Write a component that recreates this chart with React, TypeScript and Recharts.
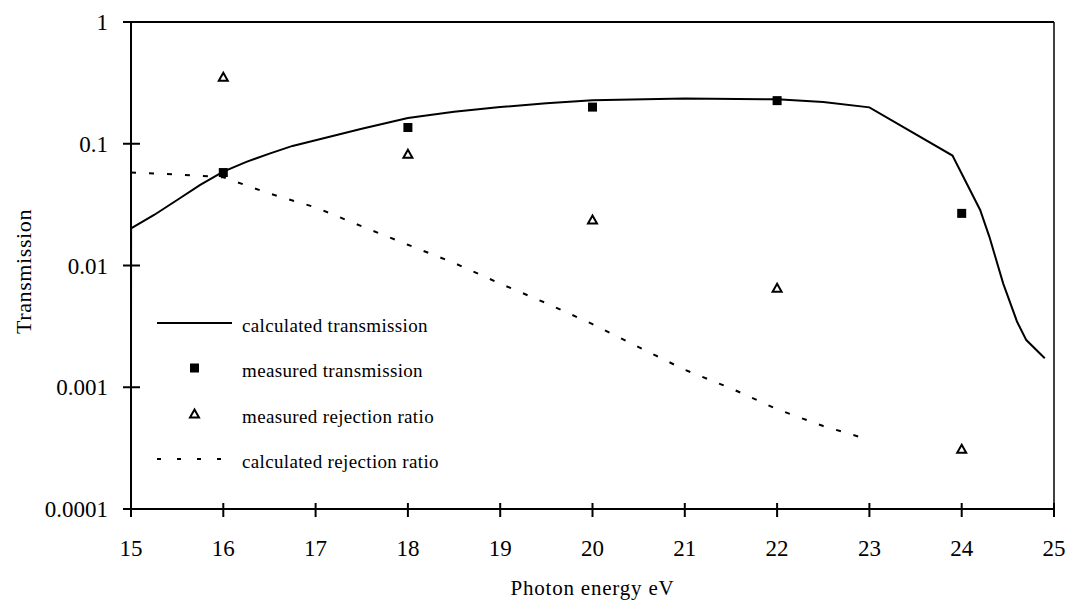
import React from "react";
import {
  ComposedChart,
  Line,
  Scatter,
  XAxis,
  YAxis,
  Legend,
  ReferenceLine,
  Label,
} from "recharts";

const FONT = '"Liberation Serif", "Times New Roman", serif';

// calculated transmission curve
const calcEnergy = [15, 15.001, 15.25, 15.5, 15.75, 16, 16.25, 16.5, 16.75, 17, 17.5, 18, 18.5, 19, 19.5, 20, 21, 22, 22.5, 23, 23.9, 24.2, 24.3, 24.45, 24.6, 24.7, 24.9];
const calcTransmission = [0.00167, 0.0202, 0.026, 0.0345, 0.046, 0.059, 0.071, 0.083, 0.096, 0.107, 0.133, 0.163, 0.183, 0.2, 0.215, 0.228, 0.235, 0.232, 0.22, 0.199, 0.08, 0.0286, 0.0172, 0.0071, 0.00345, 0.00244, 0.00173];

// measured points
const measEnergy = [16, 18, 20, 22, 24];
const measTransmission = [0.058, 0.136, 0.2, 0.226, 0.0268];
const measRejection = [0.351, 0.082, 0.0236, 0.0065, 0.00031];

// calculated rejection ratio
const rejEnergy = [15, 15.5, 16, 16.5, 17, 17.5, 18, 18.5, 19, 19.5, 20, 20.5, 21, 21.5, 22, 22.5, 23];
const rejRatio = [0.058, 0.056, 0.053, 0.039, 0.03, 0.021, 0.0148, 0.0105, 0.0071, 0.0049, 0.0033, 0.00214, 0.00139, 0.00098, 0.00066, 0.00048, 0.00037];

const xTicks = [15, 16, 17, 18, 19, 20, 21, 22, 23, 24, 25];
const yTicks = [0.0001, 0.001, 0.01, 0.1, 1];

const legendLabels = [
  "calculated transmission",
  "measured transmission",
  "measured rejection ratio",
  "calculated rejection ratio",
];

const zip = (xs: number[], ys: number[]) => xs.map((x, i) => ({ x, y: ys[i] }));

const calcTransData = zip(calcEnergy, calcTransmission);
const measTransData = zip(measEnergy, measTransmission);
const measRejData = zip(measEnergy, measRejection);
const rejData = zip(rejEnergy, rejRatio);

const XTick = (props: any) => {
  const { x, y, payload } = props;
  return (
    <g>
      <line x1={x} x2={x} y1={y - 6} y2={y + 8} stroke="#000" strokeWidth={2} />
      <text x={x} y={y + 39} dy="0.35em" textAnchor="middle" fontSize={23} fontFamily={FONT} fill="#000">
        {payload.value}
      </text>
    </g>
  );
};

const YTick = (props: any) => {
  const { x, y, payload } = props;
  return (
    <g>
      <line x1={x - 8} x2={x + 9} y1={y} y2={y} stroke="#000" strokeWidth={2} />
      <text x={x - 23} y={y} dy="0.35em" textAnchor="end" fontSize={23} fontFamily={FONT} fill="#000">
        {String(payload.value)}
      </text>
    </g>
  );
};

const SquareDot = (p: any) => (
  <rect x={p.cx - 4.5} y={p.cy - 4.5} width={9} height={9} fill="#000" />
);

const TriangleDot = (p: any) => (
  <path
    d={`M${p.cx},${p.cy - 4.5} L${p.cx + 4.5},${p.cy + 3.5} L${p.cx - 4.5},${p.cy + 3.5} Z`}
    fill="#fff"
    stroke="#000"
    strokeWidth={2}
  />
);

const legendIcon = (i: number) => {
  if (i === 0) return <line x1={0} x2={75} y1={23} y2={23} stroke="#000" strokeWidth={2} />;
  if (i === 1) return <rect x={33} y={18.5} width={9} height={9} fill="#000" />;
  if (i === 2) return <path d="M37.5,18.5 L42,26.5 L33,26.5 Z" fill="#fff" stroke="#000" strokeWidth={2} />;
  return <line x1={0} x2={75} y1={23} y2={23} stroke="#000" strokeWidth={2} strokeDasharray="4 16" />;
};

const renderLegend = () => (
  <div style={{ fontFamily: FONT, fontSize: 19, letterSpacing: 0.35, color: "#000" }}>
    {legendLabels.map((label, i) => (
      <div key={label} style={{ display: "flex", alignItems: "center", height: 45.5 }}>
        <svg width={85} height={46} style={{ display: "block" }}>
          {legendIcon(i)}
        </svg>
        <span style={{ paddingTop: 6, whiteSpace: "nowrap" }}>{label}</span>
      </div>
    ))}
  </div>
);

export default function App() {
  return (
    <div style={{ position: "absolute", left: 0, top: 0, background: "#fff" }}>
      <ComposedChart
        width={1075}
        height={605}
        margin={{ top: 22, right: 21, bottom: 0, left: 0 }}
      >
        <XAxis
          type="number"
          dataKey="x"
          domain={[15, 25]}
          ticks={xTicks}
          height={96}
          tickSize={0}
          tickMargin={0}
          tickLine={false}
          tick={<XTick />}
          axisLine={{ stroke: "#000", strokeWidth: 2 }}
          allowDataOverflow
        >
          <Label
            content={(p: any) => {
              const vb = p.viewBox;
              return (
                <text
                  x={vb.x + vb.width / 2}
                  y={vb.y + 79}
                  dy="0.35em"
                  textAnchor="middle"
                  fontSize={21}
                  letterSpacing={0.8}
                  fontFamily={FONT}
                  fill="#000"
                >
                  Photon energy eV
                </text>
              );
            }}
          />
        </XAxis>
        <YAxis
          type="number"
          dataKey="y"
          scale="log"
          domain={[0.0001, 1]}
          ticks={yTicks}
          width={131}
          tickSize={0}
          tickMargin={0}
          tickLine={false}
          tick={<YTick />}
          axisLine={{ stroke: "#000", strokeWidth: 2 }}
          allowDataOverflow
        >
          <Label
            content={(p: any) => {
              const vb = p.viewBox;
              const cx = 23;
              const cy = vb.y + vb.height / 2 + 6;
              return (
                <text
                  x={cx}
                  y={cy}
                  dy="0.35em"
                  textAnchor="middle"
                  fontSize={22}
                  letterSpacing={0.6}
                  fontFamily={FONT}
                  fill="#000"
                  transform={`rotate(-90 ${cx} ${cy})`}
                >
                  Transmission
                </text>
              );
            }}
          />
        </YAxis>
        <ReferenceLine y={1} stroke="#000" strokeWidth={2} />
        <ReferenceLine x={25} stroke="#000" strokeWidth={1.5} />
        <Line
          data={calcTransData}
          dataKey="y"
          type="linear"
          stroke="#000"
          strokeWidth={2}
          dot={false}
          isAnimationActive={false}
        />
        <Line
          data={rejData}
          dataKey="y"
          type="linear"
          stroke="#000"
          strokeWidth={2}
          strokeDasharray="5 13"
          dot={false}
          isAnimationActive={false}
        />
        <Scatter data={measTransData} dataKey="y" shape={SquareDot} isAnimationActive={false} />
        <Scatter data={measRejData} dataKey="y" shape={TriangleDot} isAnimationActive={false} />
        <Legend
          layout="horizontal"
          verticalAlign="middle"
          align="center"
          content={renderLegend}
          wrapperStyle={{ position: "absolute", left: 157, top: 300, width: 320, bottom: "auto" }}
        />
      </ComposedChart>
    </div>
  );
}
